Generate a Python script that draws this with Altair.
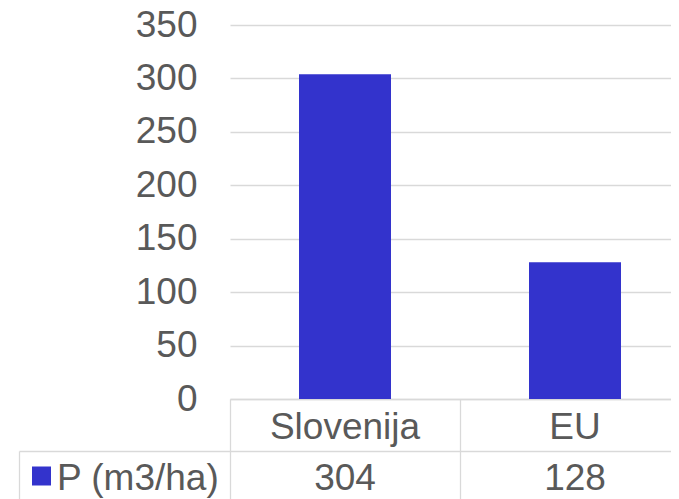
import altair as alt
import pandas as pd

categories = ["Slovenija", "EU"]
values = [304, 128]
series_name = "P (m3/ha)"
y_ticks = [0, 50, 100, 150, 200, 250, 300, 350]

BAR = "#3333CC"
TXT = "#595959"
GRID = "#d9d9d9"
FONT = "Liberation Sans"
FS = 37

PLOT_W = 441          # visible plot width (the plot continues past the window edge)
PLOT_H = 374
CELL_W = 230          # width of one category column in px
BAR_FRAC = 0.4        # bar width as fraction of the column
PAD_TOP = 17
PAD_BOTTOM = 100

df = pd.DataFrame({"cat": categories, "value": values, "idx": list(range(len(categories)))})
legend_df = pd.DataFrame({"name": [series_name]})

xscale = alt.Scale(domain=[0, PLOT_W / CELL_W], nice=False, zero=False)

base = alt.Chart(df).transform_calculate(
    xc="datum.idx + 0.5",
    x0=f"datum.idx + {0.5 - BAR_FRAC / 2}",
    x1=f"datum.idx + {0.5 + BAR_FRAC / 2}",
)

bars = base.mark_bar(color=BAR).encode(
    x=alt.X(
        "x0:Q",
        title=None,
        scale=xscale,
        axis=alt.Axis(
            values=list(range(len(categories) + 1)),
            labels=False,
            grid=False,
            domainColor=GRID,
            domainWidth=1.3,
            tickSize=PAD_BOTTOM,
            tickColor=GRID,
            tickWidth=1.3,
        ),
    ),
    x2="x1:Q",
    y=alt.Y(
        "value:Q",
        title=None,
        scale=alt.Scale(domain=[0, 350], nice=False, padding=0),
        axis=alt.Axis(
            values=y_ticks,
            grid=True,
            gridColor=GRID,
            gridWidth=1.3,
            domain=False,
            ticks=False,
            labelFont=FONT,
            labelFontSize=FS,
            labelColor=TXT,
            labelPadding=33,
        ),
    ),
    y2=alt.datum(0),
)

cat_text = base.mark_text(
    font=FONT, fontSize=FS, color=TXT, baseline="alphabetic", align="center"
).encode(
    x=alt.X("xc:Q", scale=xscale),
    y=alt.value(PLOT_H + 40),
    text="cat:N",
)

val_text = base.mark_text(
    font=FONT, fontSize=FS, color=TXT, baseline="alphabetic", align="center"
).encode(
    x=alt.X("xc:Q", scale=xscale),
    y=alt.value(PLOT_H + 91),
    text="value:Q",
)

h_line = alt.Chart(legend_df).mark_rule(color=GRID, strokeWidth=1.3).encode(
    x=alt.value(-210.5), x2=alt.value(PLOT_W), y=alt.value(PLOT_H + 52.5)
)
v_line = alt.Chart(legend_df).mark_rule(color=GRID, strokeWidth=1.3).encode(
    x=alt.value(-210.5), y=alt.value(PLOT_H + 52.5), y2=alt.value(PLOT_H + PAD_BOTTOM)
)

legend_sq = alt.Chart(legend_df).mark_point(
    shape="square", filled=True, color=BAR, size=361, opacity=1
).encode(x=alt.value(-188.5), y=alt.value(PLOT_H + 77))

legend_txt = alt.Chart(legend_df).mark_text(
    font=FONT, fontSize=FS, color=TXT, baseline="alphabetic", align="left"
).encode(x=alt.value(-173), y=alt.value(PLOT_H + 91), text="name:N")

chart = alt.layer(bars, cat_text, val_text, h_line, v_line, legend_sq, legend_txt).properties(
    width=PLOT_W,
    height=PLOT_H,
    autosize=alt.AutoSizeParams(type="none"),
    padding={"left": 222, "top": PAD_TOP, "right": 0, "bottom": PAD_BOTTOM},
).configure_view(stroke=None)

chart.save("out.html", embed_options={"renderer": "svg", "actions": False})
